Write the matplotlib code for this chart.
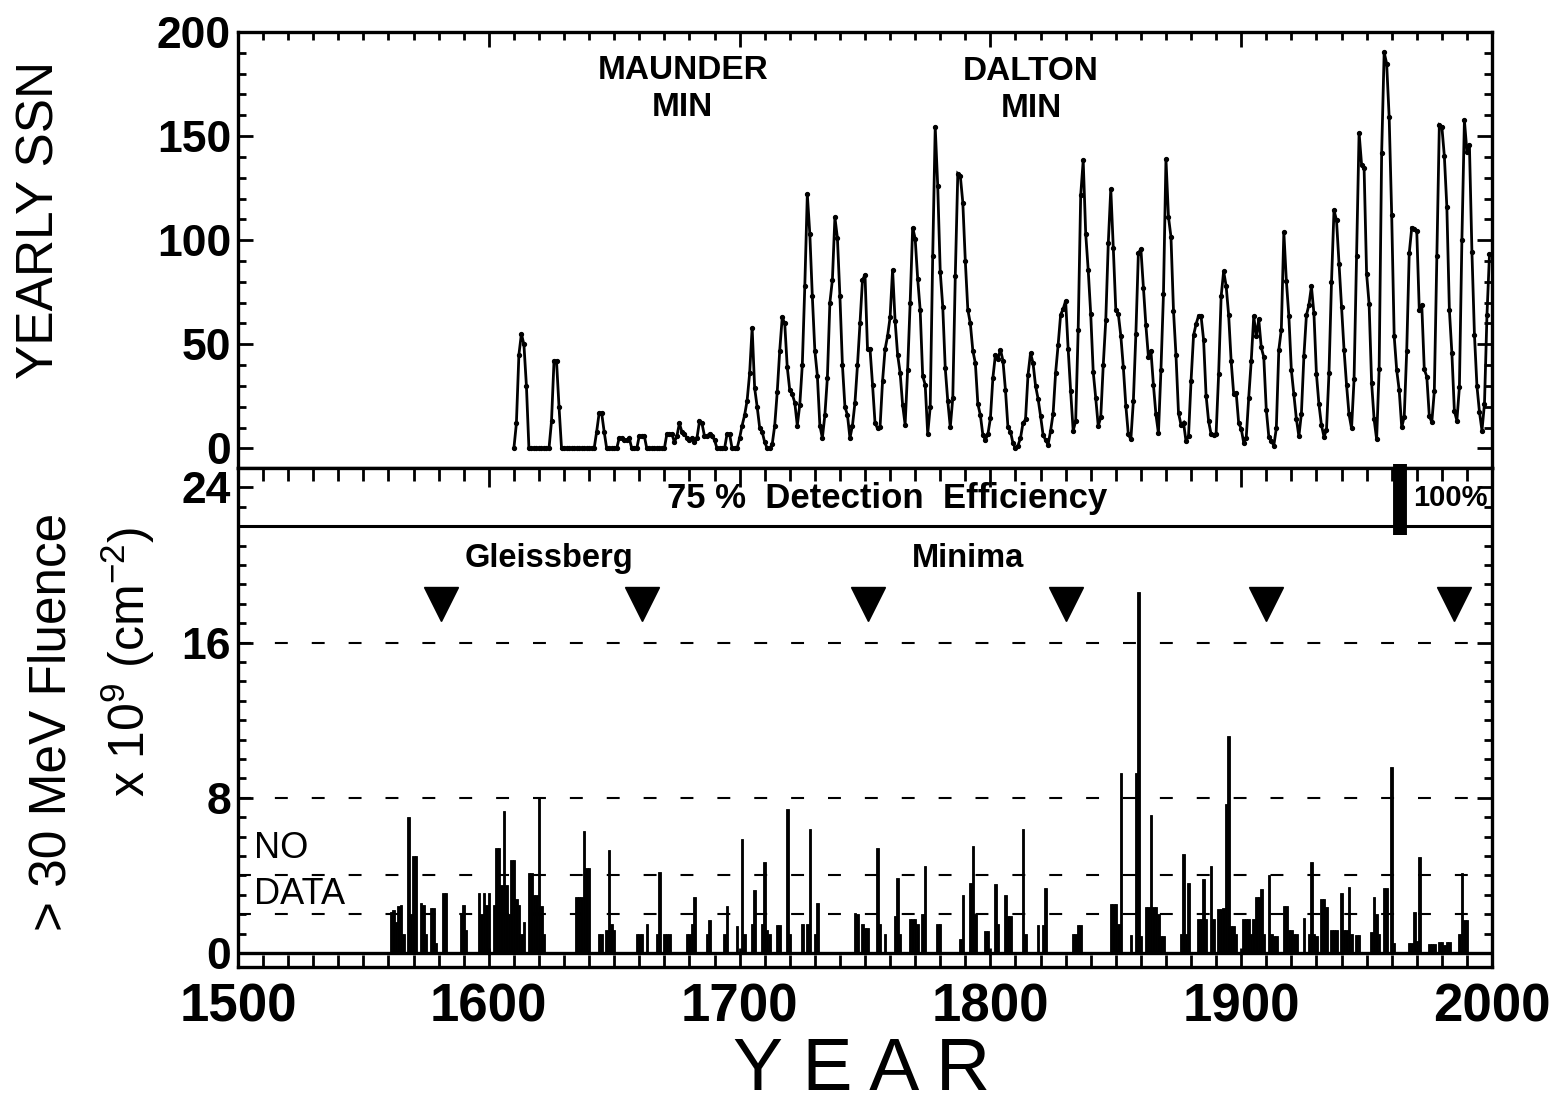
import matplotlib
matplotlib.use("Agg")
import matplotlib.pyplot as plt
from matplotlib.ticker import MultipleLocator

plt.rcParams['font.family'] = ['Liberation Sans', 'DejaVu Sans']
plt.rcParams['mathtext.fontset'] = 'custom'
plt.rcParams['mathtext.rm'] = 'Liberation Sans'
plt.rcParams['mathtext.it'] = 'Liberation Sans:italic'
plt.rcParams['mathtext.bf'] = 'Liberation Sans:bold'

# ---------------- data ----------------
ssn_start = 1610
ssn_values = [
    0, 12, 45, 55, 50, 30, 0, 0, 0, 0,            # 1610
    0, 0, 0, 0, 0, 13, 42, 42, 20, 0,             # 1620
    0, 0, 0, 0, 0, 0, 0, 0, 0, 0,                 # 1630
    0, 0, 0, 8, 17, 17, 8, 0, 0, 0,               # 1640
    0, 0, 5, 5, 4, 4, 5, 0, 0, 0,                 # 1650
    6, 6, 6, 0, 0, 0, 0, 0, 0, 0,                 # 1660
    0, 7, 7, 7, 3, 6, 12, 8, 7, 5,                # 1670
    4, 5, 3, 5, 13, 12, 6, 6, 7, 6,               # 1680
    4, 0, 0, 0, 0, 7, 7, 0, 0, 0,                 # 1690
    5, 11, 16, 23, 36, 58, 29, 20, 10, 8,         # 1700
    3, 0, 0, 2, 11, 27, 47, 63, 60, 39,           # 1710
    28, 26, 22, 11, 21, 40, 78, 122, 103, 73,     # 1720
    47, 35, 11, 5, 16, 34, 70, 81, 111, 101,      # 1730
    73, 40, 20, 16, 5, 11, 22, 40, 60, 80.9,      # 1740
    83.4, 47.7, 47.8, 30.7, 12.2, 9.6, 10.2, 32.4, 47.6, 54.0,   # 1750
    62.9, 85.9, 61.2, 45.1, 36.4, 20.9, 11.4, 37.8, 69.8, 106.1, # 1760
    100.8, 81.6, 66.5, 34.8, 30.6, 7.0, 19.8, 92.5, 154.4, 125.9, # 1770
    84.8, 68.1, 38.5, 22.8, 10.2, 24.1, 82.9, 132.0, 130.9, 118.1, # 1780
    89.9, 66.6, 60.0, 46.9, 41.0, 21.3, 16.0, 6.4, 4.1, 6.8,     # 1790
    14.5, 34.0, 45.0, 43.1, 47.5, 42.2, 28.1, 10.1, 8.1, 2.5,    # 1800
    0.0, 1.4, 5.0, 12.2, 13.9, 35.4, 45.8, 41.0, 30.1, 23.9,     # 1810
    15.6, 6.6, 4.0, 1.8, 8.5, 16.6, 36.3, 49.6, 64.2, 67.0,      # 1820
    70.9, 47.8, 27.5, 8.5, 13.2, 56.9, 121.5, 138.3, 103.2, 85.7, # 1830
    64.6, 36.7, 24.2, 10.7, 15.0, 40.1, 61.5, 98.5, 124.7, 96.3, # 1840
    66.6, 64.5, 54.1, 39.0, 20.6, 6.7, 4.3, 22.7, 54.8, 93.8,    # 1850
    95.8, 77.2, 59.1, 44.0, 47.0, 30.5, 16.3, 7.3, 37.6, 74.0,   # 1860
    139.0, 111.2, 101.6, 66.2, 44.7, 17.0, 11.3, 12.4, 3.4, 6.0, # 1870
    32.3, 54.3, 59.7, 63.7, 63.5, 52.2, 25.4, 13.1, 6.8, 6.3,    # 1880
    7.1, 35.6, 73.0, 85.1, 78.0, 64.0, 41.8, 26.2, 26.7, 12.1,   # 1890
    9.5, 2.7, 5.0, 24.4, 42.0, 63.5, 53.8, 62.0, 48.5, 43.9,     # 1900
    18.6, 5.7, 3.6, 1.4, 9.6, 47.4, 57.1, 103.9, 80.6, 63.6,     # 1910
    37.6, 26.1, 14.2, 5.8, 16.7, 44.3, 63.9, 69.0, 77.8, 64.9,   # 1920
    35.7, 21.2, 11.1, 5.7, 8.7, 36.1, 79.7, 114.4, 109.6, 88.8,  # 1930
    67.8, 47.5, 30.6, 16.3, 9.6, 33.2, 92.6, 151.6, 136.3, 134.7, # 1940
    83.9, 69.4, 31.5, 13.9, 4.4, 38.0, 141.7, 190.2, 184.8, 159.0, # 1950
    112.3, 53.9, 37.6, 27.9, 10.2, 15.1, 47.0, 93.8, 105.9, 105.5, # 1960
    104.5, 66.6, 68.9, 38.0, 34.5, 15.5, 12.6, 27.5, 92.5, 155.4, # 1970
    154.6, 140.4, 115.9, 66.6, 45.9, 17.9, 13.4, 29.4, 100.2, 157.6, # 1980
    142.6, 145.7, 94.3, 54.6, 29.9, 17.5, 8.6, 21.5, 64.3, 93.3,  # 1990
]
ssn_years = list(range(ssn_start, ssn_start + len(ssn_values)))

event_years = [
    1561, 1562, 1563, 1564, 1565, 1566, 1568, 1569, 1570, 1571, 1573, 1574, 1575,
    1577, 1578, 1579, 1582, 1583, 1589, 1590, 1591, 1596, 1597, 1598, 1599, 1600,
    1602, 1603, 1604, 1605, 1606, 1607, 1608, 1609, 1610, 1611, 1612, 1613, 1614,
    1616, 1617, 1618, 1619, 1620, 1621, 1622, 1635, 1636, 1637, 1638, 1639, 1640,
    1644, 1645, 1647, 1648, 1649, 1650, 1659, 1660, 1661, 1663, 1667, 1668, 1670,
    1671, 1672, 1679, 1680, 1681, 1682, 1687, 1688, 1694, 1695, 1699, 1701, 1702,
    1705, 1706, 1709, 1710, 1711, 1712, 1715, 1716, 1719, 1720, 1725, 1727, 1728,
    1730, 1731, 1746, 1747, 1749, 1750, 1751, 1755, 1756, 1758, 1762, 1763, 1764,
    1768, 1769, 1770, 1771, 1773, 1774, 1779, 1780, 1788, 1789, 1792, 1793, 1794,
    1798, 1799, 1802, 1803, 1806, 1807, 1808, 1813, 1814, 1819, 1821, 1822, 1833,
    1834, 1835, 1836, 1848, 1849, 1850, 1851, 1852, 1856, 1858, 1859, 1860, 1862,
    1863, 1864, 1865, 1866, 1867, 1868, 1869, 1876, 1877, 1878, 1879, 1883, 1884,
    1885, 1886, 1888, 1889, 1891, 1892, 1893, 1894, 1895, 1896, 1897, 1898, 1901,
    1902, 1903, 1904, 1905, 1906, 1907, 1908, 1909, 1911, 1912, 1913, 1914, 1917,
    1918, 1919, 1920, 1921, 1922, 1925, 1927, 1928, 1929, 1930, 1932, 1933, 1934,
    1936, 1937, 1938, 1940, 1941, 1942, 1943, 1944, 1946, 1947, 1952, 1953, 1954,
    1955, 1957, 1958, 1960, 1961, 1967, 1968, 1969, 1970, 1971, 1975, 1976, 1977,
    1979, 1980, 1981, 1982, 1983, 1987, 1988, 1989, 1990,
]
event_fluence = [
    2.1, 2.2, 1.6, 2.4, 2.5, 1.0, 7.0, 2.0, 5.0, 5.0, 2.6, 2.5, 1.0,
    2.3, 2.3, 0.5, 3.1, 3.1, 2.0, 2.5, 1.2, 3.1, 2.0, 3.1, 2.5, 3.1,
    2.5, 5.4, 5.4, 3.5, 7.3, 3.5, 2.0, 4.8, 4.8, 2.8, 2.5, 1.0, 1.6,
    4.1, 4.1, 3.0, 3.0, 8.0, 2.4, 1.0, 2.9, 2.9, 2.9, 6.3, 4.4, 4.4,
    1.0, 1.0, 1.2, 5.3, 1.5, 1.2, 1.0, 1.0, 1.0, 1.5, 1.0, 4.2, 1.0,
    1.0, 1.0, 1.0, 1.0, 1.5, 2.9, 1.0, 1.7, 1.0, 2.4, 1.4, 5.9, 1.0,
    1.5, 3.25, 1.5, 4.7, 1.2, 1.0, 1.45, 1.45, 7.4, 1.0, 1.5, 1.5, 6.4,
    1.0, 2.6, 2.05, 2.0, 1.5, 1.3, 1.3, 5.4, 1.5, 1.0, 1.9, 3.85, 1.0,
    1.75, 1.75, 1.75, 1.5, 2.0, 4.5, 1.5, 1.5, 0.7, 3.0, 3.6, 5.5, 2.0,
    1.15, 1.15, 3.55, 1.5, 3.0, 1.9, 1.9, 6.4, 1.0, 1.45, 1.45, 3.35, 1.0,
    1.0, 1.45, 1.45, 2.55, 2.55, 2.55, 1.5, 9.3, 0.95, 9.3, 18.6, 0.87, 2.35,
    2.35, 7.1, 2.35, 2.35, 2.0, 0.87, 0.87, 1.0, 5.1, 1.0, 3.6, 1.74, 1.74,
    3.8, 1.74, 4.5, 1.74, 2.26, 2.26, 2.3, 7.7, 11.2, 1.4, 1.4, 1.0, 1.74,
    1.74, 1.74, 1.0, 1.74, 2.87, 2.87, 3.3, 1.0, 4.0, 1.0, 0.87, 0.87, 2.4,
    2.4, 1.2, 1.2, 1.0, 1.0, 1.8, 1.0, 4.7, 1.0, 0.87, 2.8, 2.8, 2.35,
    1.2, 1.2, 1.2, 3.1, 1.2, 1.2, 3.4, 1.0, 0.95, 0.95, 1.1, 2.9, 2.0,
    1.0, 3.35, 3.35, 9.6, 0.5, 0.5, 0.5, 2.1, 0.6, 4.95, 0.45, 0.45, 0.45,
    0.55, 0.55, 0.4, 0.55, 0.55, 1.0, 4.1, 1.7, 1.7,
]

gleissberg_minima = [1581, 1661, 1751, 1830, 1910, 1985]
ref_levels = [2, 4, 8, 16]
efficiency_change_year = 1963.5

ssn_yticks = [0, 50, 100, 150, 200]
flu_yticks = [0, 8, 16, 24]
xticks = [1500, 1600, 1700, 1800, 1900, 2000]

# ---------------- figure ----------------
W, H = 1551, 1111
fig = plt.figure(figsize=(W / 100, H / 100), dpi=100)
left, right = 238 / W, 1492 / W
ax1 = fig.add_axes([left, 1 - 468 / H, right - left, (468 - 32) / H])
ax2 = fig.add_axes([left, 1 - 967 / H, right - left, (967 - 468) / H])

spine_w = 2.4
for ax in (ax1, ax2):
    for s in ax.spines.values():
        s.set_linewidth(spine_w)
    ax.set_xlim(1500, 2000)

# ---- top panel: yearly sunspot number ----
ax1.plot(ssn_years, ssn_values, color='black', lw=2.0, marker='o', ms=2.8,
         solid_joinstyle='miter')
ax1.set_ylim(-9.4, 200)
ax1.set_yticks(ssn_yticks)
ax1.yaxis.set_minor_locator(MultipleLocator(10))
ax1.xaxis.set_major_locator(MultipleLocator(100))
ax1.xaxis.set_minor_locator(MultipleLocator(10))
ax1.tick_params(axis='both', which='both', direction='in', width=2,
                top=True, bottom=False, left=True, right=True,
                labelbottom=False)
ax1.tick_params(which='major', length=11)
ax1.tick_params(which='minor', length=6)
ax1.tick_params(axis='y', labelsize=32, pad=5)
for lab in ax1.get_yticklabels():
    lab.set_fontweight('bold')

ax1.text(1677.5, 177.5, 'MAUNDER', ha='center', va='baseline',
         fontsize=24, fontweight='bold')
ax1.text(1677.0, 159.5, 'MIN', ha='center', va='baseline',
         fontsize=24, fontweight='bold')
ax1.text(1816.0, 176.8, 'DALTON', ha='center', va='baseline',
         fontsize=24, fontweight='bold')
ax1.text(1816.5, 159.2, 'MIN', ha='center', va='baseline',
         fontsize=24, fontweight='bold')

# ---- bottom panel: nitrate fluence events ----
ax2.set_ylim(-0.72, 25)
for lv in ref_levels:
    ax2.axhline(lv, color='black', lw=1.5, linestyle=(0, (6.2, 11.5)))
ax2.axhline(0, color='black', lw=2.4)
ax2.axhline(22, color='black', lw=2.2)
ax2.bar(event_years, event_fluence, width=1.0, color='black',
        edgecolor='black', linewidth=0.6, align='center')
ax2.plot([efficiency_change_year, efficiency_change_year], [21.55, 25.2],
         color='black', lw=10, solid_capstyle='butt', clip_on=False)
ax2.plot(gleissberg_minima, [18.0] * len(gleissberg_minima), linestyle='none',
         marker='v', ms=25, color='black')

ax2.set_yticks(flu_yticks)
ax2.yaxis.set_minor_locator(MultipleLocator(1))
ax2.set_xticks(xticks)
ax2.xaxis.set_minor_locator(MultipleLocator(10))
ax2.tick_params(axis='both', which='both', direction='in', width=2,
                top=True, bottom=True, left=True, right=True)
ax2.tick_params(axis='y', which='major', length=11)
ax2.tick_params(axis='y', which='minor', length=6)
ax2.tick_params(axis='x', which='major', length=14)
ax2.tick_params(axis='x', which='minor', length=9)
ax2.tick_params(axis='y', labelsize=32, pad=5)
ax2.tick_params(axis='x', labelsize=38, pad=11)
for lab in ax2.get_yticklabels() + ax2.get_xticklabels():
    lab.set_fontweight('bold')

ax2.text(1758.8, 23.45, '75 %  Detection  Efficiency', ha='center',
         va='center', fontsize=25, fontweight='bold')
ax2.text(1983.5, 23.45, '100%', ha='center', va='center', fontsize=21,
         fontweight='bold')
ax2.text(1624, 19.9, 'Gleissberg', ha='center', va='baseline',
         fontsize=23.5, fontweight='bold')
ax2.text(1791, 19.9, 'Minima', ha='center', va='baseline',
         fontsize=23.5, fontweight='bold')
ax2.text(1506.5, 5.4, 'NO', ha='left', va='center', fontsize=26)
ax2.text(1506.5, 3.0, 'DATA', ha='left', va='center', fontsize=26)

# ---- axis titles ----
fig.text(40 / W, 1 - 220 / H, 'YEARLY SSN', rotation=90, ha='center',
         va='center', fontsize=37)
fig.text(52 / W, 1 - 722 / H, '> 30 MeV Fluence', rotation=90, ha='center',
         va='center', fontsize=37)
fig.text(128 / W, 1 - 662 / H, r'x 10$^{9}$ (cm$^{-2}$)', rotation=90,
         ha='center', va='center', fontsize=36)
fig.text(862 / W, 1 - 1070 / H, 'Y E A R', ha='center', va='center',
         fontsize=54)

fig.savefig('out.png', dpi=100)
